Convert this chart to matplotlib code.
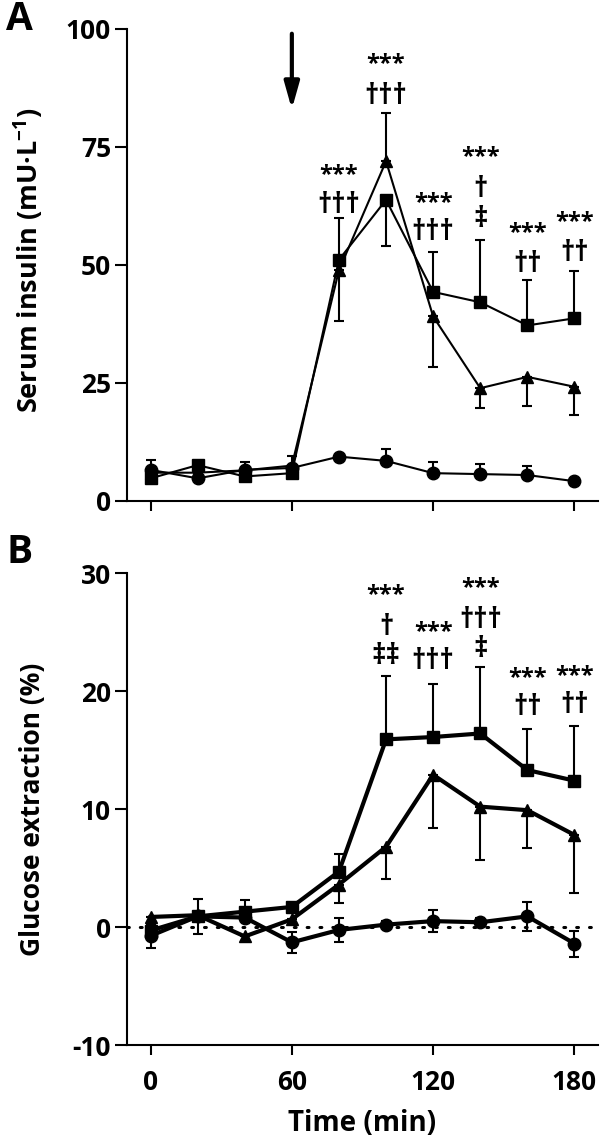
import matplotlib
matplotlib.use("Agg")
import matplotlib.pyplot as plt
import numpy as np

plt.rcParams['font.family'] = ['Open Sans', 'DejaVu Sans']
plt.rcParams['font.weight'] = 'bold'
plt.rcParams['mathtext.fontset'] = 'custom'
plt.rcParams['mathtext.rm'] = 'Open Sans:bold'
plt.rcParams['mathtext.bf'] = 'Open Sans:bold'
plt.rcParams['axes.unicode_minus'] = False

time = [0, 20, 40, 60, 80, 100, 120, 140, 160, 180]

# Panel A: serum insulin (mU/L)
ins_sq = [4.8, 7.6, 5.2, 5.9, 51.1, 63.8, 44.3, 42.1, 37.2, 38.7]
ins_sq_lo = [0, 0, 0, 0, 0, 9.8, 0, 0, 0, 0]
ins_sq_hi = [0, 0, 0, 0, 8.9, 0, 8.5, 13.2, 9.6, 10.0]
ins_tr = [6.0, 6.0, 6.5, 7.5, 48.9, 72.0, 39.1, 23.9, 26.3, 24.2]
ins_tr_lo = [0, 0, 0, 0, 10.8, 0, 10.8, 4.1, 6.1, 6.0]
ins_tr_hi = [0, 0, 0, 2.0, 0, 10.2, 0, 0, 0, 0]
ins_ci = [6.6, 4.8, 6.6, 7.0, 9.4, 8.5, 5.9, 5.7, 5.5, 4.2]
ins_ci_err = [2.0, 0, 1.7, 0, 0, 2.6, 2.3, 2.2, 1.9, 0]

# Panel B: glucose extraction (%)
ge_sq = [-0.3, 0.9, 1.3, 1.7, 4.7, 15.9, 16.1, 16.4, 13.3, 12.4]
ge_sq_hi = [0, 0, 1.0, 0, 1.5, 5.4, 4.5, 5.6, 3.5, 4.6]
ge_tr = [0.85, 1.0, -0.8, 0.65, 3.6, 6.8, 12.9, 10.2, 9.9, 7.8]
ge_tr_lo = [0, 0, 0, 0, 1.6, 2.7, 4.5, 4.5, 3.2, 4.9]
ge_ci = [-0.75, 0.9, 0.8, -1.3, -0.25, 0.2, 0.5, 0.4, 0.9, -1.4]
ge_ci_err = [1.0, 1.5, 0, 0.9, 1.0, 0.3, 0.9, 0.4, 1.2, 1.1]

# significance annotations: (time, value, text)
annot_A = [(80, 69.1, '***'), (80, 62.7, '†††'),
           (100, 92.6, '***'), (100, 85.8, '†††'),
           (120, 63.1, '***'), (120, 56.8, '†††'),
           (140, 72.9, '***'), (140, 65.9, '†'), (140, 59.7, '‡'),
           (160, 56.8, '***'), (160, 50.2, '††'),
           (180, 59.1, '***'), (180, 52.5, '††')]
annot_B = [(100, 28.1, '***'), (100, 25.4, '†'), (100, 22.9, '‡‡'),
           (120, 25.0, '***'), (120, 22.5, '†††'),
           (140, 28.7, '***'), (140, 26.0, '†††'), (140, 23.5, '‡'),
           (160, 21.1, '***'), (160, 18.6, '††'),
           (180, 21.3, '***'), (180, 18.8, '††')]

arrow_time = 60
arrow_top = 99
arrow_tip = 83

fig = plt.figure(figsize=(6.03, 11.46), dpi=100)
axA = fig.add_axes([127/603, 1-501/1146, 471/603, 472/1146])
axB = fig.add_axes([127/603, 1-1045/1146, 471/603, 472/1146])

def style(ax):
    for s in ['top', 'right']:
        ax.spines[s].set_visible(False)
    for s in ['left', 'bottom']:
        ax.spines[s].set_linewidth(1.5)
    ax.tick_params(axis='y', direction='out', length=8.5, width=1.5, labelsize=19, pad=3)
    ax.tick_params(axis='x', direction='out', length=7.5, width=1.5, labelsize=19, pad=10)
    ax.set_xlim(-10, 190)
    ax.set_xticks([0, 60, 120, 180])

def series(ax, y, lo, hi, marker, lw, ms):
    ax.errorbar(time, y, yerr=[lo, hi], fmt='none', ecolor='black',
                elinewidth=1.5, capsize=3.8, capthick=1.5, zorder=2)
    ax.plot(time, y, color='black', lw=lw, marker=marker, ms=ms,
            mfc='black', mec='black', zorder=3)

def annotate(ax, items):
    for t, v, s in items:
        fs = 17 if '*' in s else 20
        ax.text(t, v, s, ha='center', va='center', fontsize=fs, fontweight='bold')

# Panel A
style(axA)
zeros = [0]*len(time)
series(axA, ins_ci, zeros, ins_ci_err, 'o', 1.5, 9)
series(axA, ins_tr, ins_tr_lo, ins_tr_hi, '^', 1.5, 9)
series(axA, ins_sq, ins_sq_lo, ins_sq_hi, 's', 1.5, 9)
axA.set_ylim(0, 100)
axA.set_yticks([0, 25, 50, 75, 100])
axA.set_xticklabels([])
axA.set_ylabel('Serum insulin (mU·L$^{-1}$)', fontsize=19.5, fontweight='bold')
axA.yaxis.set_label_coords(-0.172, 0.51)
axA.annotate('', xy=(arrow_time, arrow_tip), xytext=(arrow_time, arrow_top),
             arrowprops=dict(arrowstyle='-|>,head_width=0.45,head_length=1.6',
                             color='black', lw=3, shrinkA=0, shrinkB=0))
annotate(axA, annot_A)

# Panel B
style(axB)
axB.axhline(0, color='black', lw=2.2, ls=(0, (0.6, 3.6)), dash_capstyle='round', zorder=1)
series(axB, ge_ci, ge_ci_err, ge_ci_err, 'o', 3, 9)
series(axB, ge_tr, ge_tr_lo, zeros, '^', 3, 9)
series(axB, ge_sq, zeros, ge_sq_hi, 's', 3, 9)
axB.set_ylim(-10, 30)
axB.set_yticks([-10, 0, 10, 20, 30])
axB.set_ylabel('Glucose extraction (%)', fontsize=19, fontweight='bold')
axB.yaxis.set_label_coords(-0.172, 0.5)
axB.set_xlabel('Time (min)', fontsize=20, fontweight='bold', labelpad=9)
annotate(axB, annot_B)

fig.text(6/603, 1-19/1146, 'A', fontsize=28, fontweight='bold', va='center', ha='left')
fig.text(6/603, 1-552/1146, 'B', fontsize=28, fontweight='bold', va='center', ha='left')

fig.savefig('out.png', dpi=100)
